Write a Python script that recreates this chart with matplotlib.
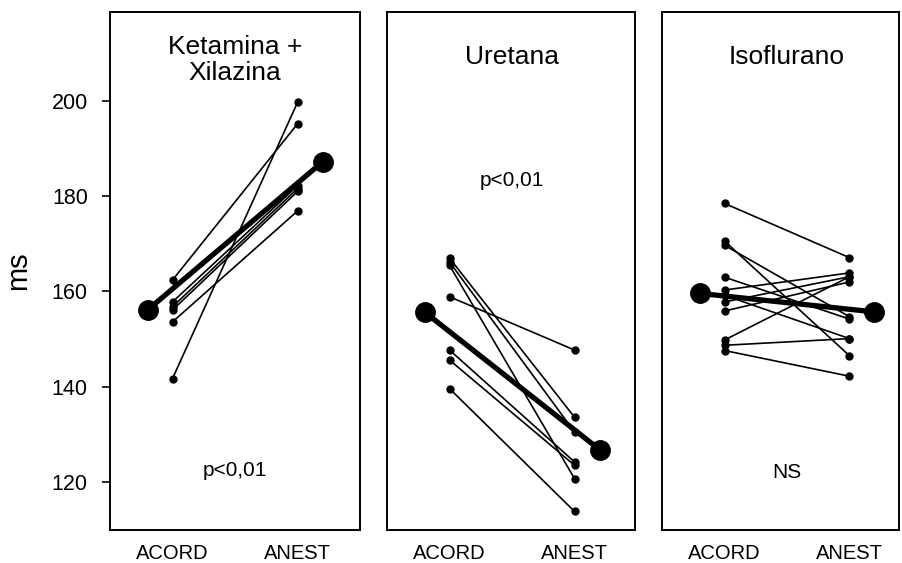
import matplotlib.pyplot as plt

plt.rcParams['font.family'] = ['Liberation Sans', 'DejaVu Sans']

# paired measurements (ms) per anaesthetic, ACORD -> ANEST
groups = ['Ketamina +\nXilazina', 'Uretana', 'Isoflurano']
ket_acord = [162.4, 157.8, 156.8, 156.1, 153.6, 141.7]
ket_anest = [195.2, 182.2, 181.6, 181.0, 176.9, 199.7]
ure_acord = [167.0, 166.2, 165.5, 158.9, 147.7, 145.6, 139.6]
ure_anest = [133.6, 130.5, 120.7, 147.7, 124.2, 123.5, 113.8]
iso_acord = [178.5, 170.6, 169.7, 163.0, 160.3, 159.2, 157.8, 155.9, 149.8, 148.7, 147.6]
iso_anest = [167.1, 146.5, 154.7, 154.2, 163.9, 150.1, 163.1, 162.0, 163.1, 150.1, 142.2]
mean_acord = [156.1, 155.7, 159.6]
mean_anest = [187.2, 126.8, 155.7]
stats = ['p<0,01', 'p<0,01', 'NS']
stat_y = [122.5, 183.4, 122.0]
title_y = [208.6, 209.2, 209.2]
xlabels = ['ACORD', 'ANEST']

acords = [ket_acord, ure_acord, iso_acord]
anests = [ket_anest, ure_anest, iso_anest]

W, H = 902, 563
fig = plt.figure(figsize=(W / 100, H / 100), dpi=100)

# panel boxes in pixels: left, right
boxes = [(110, 360), (387, 635), (662, 899)]
top, bottom = 12, 530

for i, (x0, x1) in enumerate(boxes):
    ax = fig.add_axes([x0 / W, (H - bottom) / H, (x1 - x0) / W, (bottom - top) / H])
    xr = 0.5 + (x1 - x0) / 125.0
    ax.set_xlim(0.5, xr)
    ax.set_ylim(109.9, 218.7)

    for a, b in zip(acords[i], anests[i]):
        ax.plot([1, 2], [a, b], color='black', lw=1.2, marker='o', ms=5, zorder=2)
    ax.plot([0.8, 2.2], [mean_acord[i], mean_anest[i]], color='black', lw=3.8,
            marker='o', ms=14, zorder=3)

    ax.text(1.5, title_y[i], groups[i], ha='center', va='center', fontsize=19,
            linespacing=1.1)
    ax.text(1.5, stat_y[i], stats[i], ha='center', va='center', fontsize=15)

    ax.set_xticks([1, 2])
    ax.set_xticklabels(xlabels, fontsize=14.5)
    ax.tick_params(axis='x', length=0, pad=10)
    for s in ax.spines.values():
        s.set_linewidth(1.4)
    if i == 0:
        ax.set_yticks([120, 140, 160, 180, 200])
        ax.tick_params(axis='y', labelsize=15.5, length=6, width=1.2, pad=10)
        ax.set_ylabel('ms', fontsize=21, labelpad=14)
    else:
        ax.set_yticks([])

fig.savefig('out.png', dpi=100)
